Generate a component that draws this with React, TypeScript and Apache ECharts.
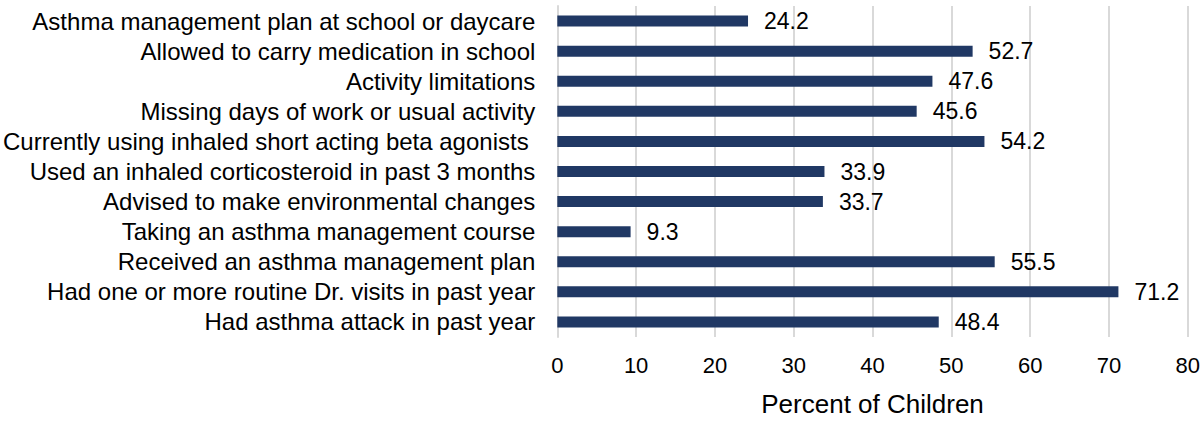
import React, { useEffect, useRef } from "react";
import * as echarts from "echarts";

const categories = [
  "Asthma management plan at school or daycare",
  "Allowed to carry medication in school",
  "Activity limitations",
  "Missing days of work or usual activity",
  "Currently using inhaled short acting beta agonists ",
  "Used an inhaled corticosteroid in past 3 months",
  "Advised to make environmental changes",
  "Taking an asthma management course",
  "Received an asthma management plan",
  "Had one or more routine Dr. visits in past year",
  "Had asthma attack in past year",
];
const values = [24.2, 52.7, 47.6, 45.6, 54.2, 33.9, 33.7, 9.3, 55.5, 71.2, 48.4];
const xTicks = [0, 10, 20, 30, 40, 50, 60, 70, 80];
const xTitle = "Percent of Children";

export default function App() {
  const ref = useRef<HTMLDivElement>(null);
  useEffect(() => {
    if (!ref.current) return;
    const chart = echarts.init(ref.current, undefined, { renderer: "svg" });
    const font = "Liberation Sans, Arial, sans-serif";
    chart.setOption({
      animation: false,
      grid: { left: 554, right: 14, top: 6, bottom: 81, containLabel: false },
      xAxis: {
        type: "value",
        min: xTicks[0],
        max: xTicks[xTicks.length - 1],
        interval: 10,
        name: xTitle,
        nameLocation: "middle",
        nameGap: 54,
        nameTextStyle: { fontSize: 26, color: "#000", fontFamily: font },
        axisLine: { show: false },
        axisTick: { show: false },
        axisLabel: { fontSize: 22, color: "#000", fontFamily: font, margin: 17 },
        splitLine: { show: true, lineStyle: { color: "#d9d9d9", width: 2 } },
      },
      yAxis: {
        type: "category",
        data: categories,
        inverse: true,
        axisLine: { show: true, lineStyle: { color: "#d9d9d9", width: 2 } },
        axisTick: { show: false },
        axisLabel: { fontSize: 24, color: "#000", fontFamily: font, margin: 22, interval: 0 },
      },
      series: [
        {
          type: "bar",
          data: values,
          barWidth: 11,
          itemStyle: { color: "#203864" },
          label: {
            show: true,
            position: "right",
            distance: 16,
            fontSize: 23,
            color: "#000",
            fontFamily: font,
            formatter: (p: any) => p.value.toFixed(1),
          },
        },
      ],
    });
    return () => chart.dispose();
  }, []);
  return (
    <div
      ref={ref}
      style={{ position: "fixed", left: 0, top: 0, width: 1203, height: 422, background: "#fff" }}
    />
  );
}
